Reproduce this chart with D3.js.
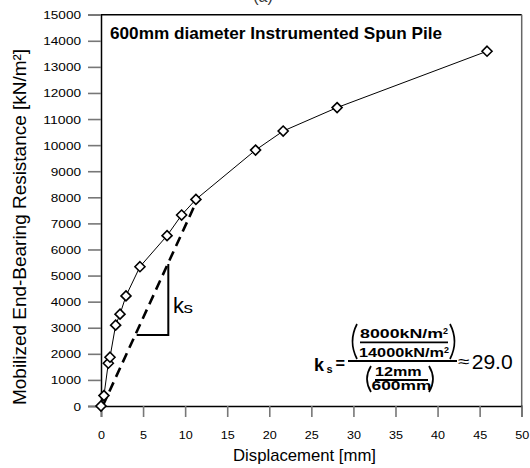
<!DOCTYPE html>
<html><head><meta charset="utf-8">
<script src="https://cdn.jsdelivr.net/npm/d3@7"></script>
<style>body{margin:0;background:#fff}svg{display:block}text{font-family:"Liberation Sans",Arial,sans-serif}</style>
</head><body>
<svg id="c" width="530" height="468"></svg>
<script>
const dispMM = [0, 0.35, 0.87, 1.07, 1.74, 2.26, 2.97, 4.63, 7.85, 9.58, 11.28, 18.37, 21.65, 28.06, 45.88];
const resistance = [0, 400, 1640, 1870, 3100, 3520, 4220, 5340, 6530, 7320, 7920, 9810, 10540, 11440, 13600];
const secantX = [0.2, 11.4];
const secantY = [0, 7880];
const triX = [4.24, 8.0];
const triY = [2720, 5440];
const xTicks = [0,5,10,15,20,25,30,35,40,45,50];
const yTicks = [0,1000,2000,3000,4000,5000,6000,7000,8000,9000,10000,11000,12000,13000,14000,15000];
const title = "600mm diameter Instrumented Spun Pile";
const xTitle = "Displacement [mm]";
const yTitle = "Mobilized End-Bearing Resistance [kN/m²]";

const svg = d3.select("#c");
const x = d3.scaleLinear().domain([0,50]).range([101,521.7]);
const y = d3.scaleLinear().domain([0,15000]).range([406,14.7]);

// frame
svg.append("line").attr("x1",x(0)).attr("x2",x(50)).attr("y1",y(15000)).attr("y2",y(15000)).attr("stroke","#000").attr("stroke-width",1.5);
svg.append("line").attr("x1",x(50)).attr("x2",x(50)).attr("y1",y(15000)).attr("y2",y(0)).attr("stroke","#666").attr("stroke-width",1.5);

// y axis
const ya = svg.append("g").attr("transform",`translate(${x(0)},0)`)
  .call(d3.axisLeft(y).tickValues(yTicks).tickSize(13).tickFormat(""));
ya.select(".domain").attr("stroke","#000").attr("stroke-width",1.5);
ya.selectAll(".tick line").attr("stroke","#777").attr("stroke-width",1.6);
ya.selectAll(".tick").append("text").attr("x",-20).attr("y",4)
  .attr("text-anchor","end").attr("fill","#000").attr("font-size",11)
  .attr("textLength",d=>String(d).length*7.55).attr("lengthAdjust","spacingAndGlyphs")
  .text(d=>d);

// x axis
const xa = svg.append("g").attr("transform",`translate(0,${y(0)})`)
  .call(d3.axisBottom(x).tickValues(xTicks).tickSize(11).tickFormat(""));
xa.select(".domain").attr("stroke","#000").attr("stroke-width",1.5);
xa.selectAll(".tick line").attr("stroke","#777").attr("stroke-width",1.6);
xa.selectAll(".tick").append("text").attr("y",33)
  .attr("text-anchor","middle").attr("fill","#000").attr("font-size",10.5)
  .attr("textLength",d=>String(d).length*7).attr("lengthAdjust","spacingAndGlyphs")
  .text(d=>d);

// titles
svg.append("text").attr("x",304.5).attr("y",461).attr("text-anchor","middle")
  .attr("font-size",17).attr("textLength",143).attr("lengthAdjust","spacingAndGlyphs").text(xTitle);
svg.append("text").attr("transform","translate(26,227) rotate(-90)").attr("text-anchor","middle")
  .attr("font-size",17.5).attr("textLength",356).attr("lengthAdjust","spacingAndGlyphs").text(yTitle);
svg.append("text").attr("x",110).attr("y",39).attr("font-weight","bold")
  .attr("font-size",17).attr("textLength",332).attr("lengthAdjust","spacingAndGlyphs").text(title);
svg.append("text").attr("x",263).attr("y",2).attr("text-anchor","middle").attr("font-size",16).attr("fill","#333").text("(a)");

// secant dashed line
svg.append("line").attr("x1",x(secantX[0])).attr("y1",y(secantY[0])).attr("x2",x(secantX[1])).attr("y2",y(secantY[1]))
  .attr("stroke","#000").attr("stroke-width",2.6).attr("stroke-dasharray","10,6");

// slope triangle
svg.append("path").attr("d",`M${x(triX[0])},${y(triY[0])}H${x(triX[1])}V${y(triY[1])}`)
  .attr("fill","none").attr("stroke","#000").attr("stroke-width",2);
svg.append("text").attr("x",173).attr("y",313).attr("font-size",22).text("k");
svg.append("text").attr("x",183.5).attr("y",313).attr("font-size",15).attr("textLength",9.5).attr("lengthAdjust","spacingAndGlyphs").text("s");

// data line
const pts = dispMM.map((d,i)=>[d,resistance[i]]);
svg.append("path").datum(pts)
  .attr("d",d3.line().x(d=>x(d[0])).y(d=>y(d[1])))
  .attr("fill","none").attr("stroke","#000").attr("stroke-width",1);
const s=5;
svg.selectAll(".mk").data(pts).enter().append("path")
  .attr("d",d=>{const cx=x(d[0]),cy=y(d[1]);return `M${cx},${cy-s}L${cx+s},${cy}L${cx},${cy+s}L${cx-s},${cy}Z`;})
  .attr("fill","#fff").attr("stroke","#000").attr("stroke-width",1.6);

// formula
const f = svg.append("g").attr("fill","#000");
f.append("text").attr("x",314).attr("y",370.7).attr("font-size",18).attr("font-weight","bold").text("k");
f.append("text").attr("x",326.5).attr("y",372.5).attr("font-size",11).attr("font-weight","bold").text("s");
f.append("text").attr("x",335.5).attr("y",369).attr("font-size",17).attr("font-weight","bold").attr("textLength",9.5).attr("lengthAdjust","spacingAndGlyphs").text("=");
function t(xp,yp,fs,len,str,w){f.append("text").attr("x",xp).attr("y",yp).attr("font-size",fs).attr("font-weight",w||"bold").attr("textLength",len).attr("lengthAdjust","spacingAndGlyphs").text(str);}
t(360,338,12.5,83,"8000kN/m"); t(443,334,9,5,"2");
f.append("line").attr("x1",360).attr("x2",448).attr("y1",342.3).attr("y2",342.3).attr("stroke","#000").attr("stroke-width",1.8);
t(359,357.3,12.5,85,"14000kN/m"); t(444,353,9,5,"2");
f.append("line").attr("x1",348).attr("x2",457).attr("y1",361).attr("y2",361).attr("stroke","#000").attr("stroke-width",2);
t(375,376,12,46.7,"12mm");
f.append("line").attr("x1",375).attr("x2",428).attr("y1",380).attr("y2",380).attr("stroke","#000").attr("stroke-width",1.8);
t(371.5,390,12,60,"600mm");
const pp = (d)=>f.append("path").attr("d",d).attr("fill","none").attr("stroke","#000").attr("stroke-width",1.7);
pp("M357,324Q348,341.5 357,359"); pp("M450,324Q459,341.5 450,359");
pp("M371,366Q363,379 371,392"); pp("M429,366Q437,379 429,392");
t(458.3,366.5,16,11.5,"≈","normal");
t(471.7,369,21,41,"29.0","normal");
</script>
</body></html>
